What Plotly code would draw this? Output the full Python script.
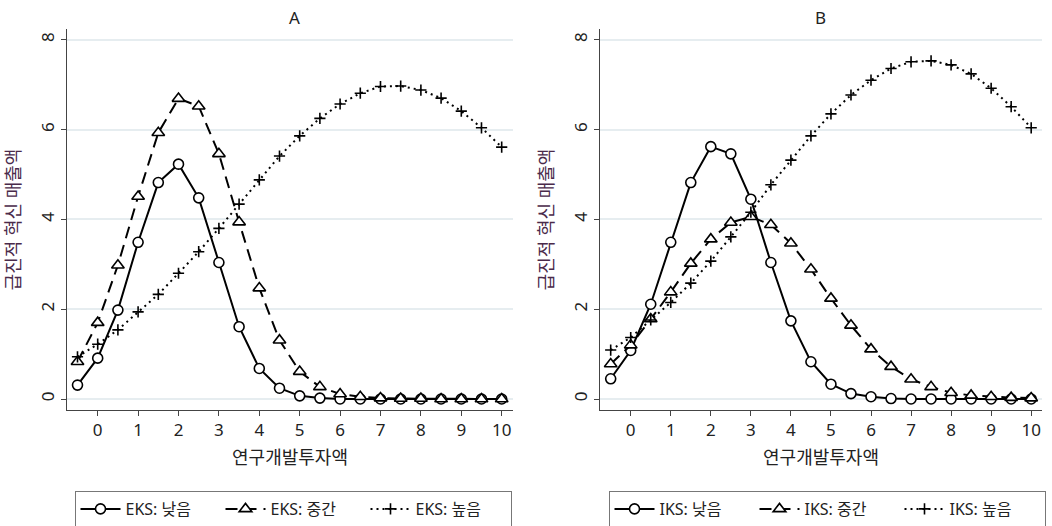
import plotly.graph_objects as go

x_vals = [-0.5, 0, 0.5, 1, 1.5, 2, 2.5, 3, 3.5, 4, 4.5, 5, 5.5, 6, 6.5, 7, 7.5, 8, 8.5, 9, 9.5, 10]

# Panel A (EKS)
a_low = [0.31, 0.91, 1.98, 3.49, 4.82, 5.23, 4.48, 3.04, 1.61, 0.68, 0.24, 0.07, 0.02, 0.0, 0.0, 0.0, 0.0, 0.0, 0.0, 0.0, 0.0, 0.0]
a_mid = [0.83, 1.70, 2.98, 4.51, 5.93, 6.69, 6.52, 5.46, 3.94, 2.47, 1.31, 0.61, 0.27, 0.11, 0.05, 0.02, 0.01, 0.01, 0.0, 0.0, 0.0, 0.0]
a_high = [0.94, 1.22, 1.54, 1.94, 2.33, 2.80, 3.28, 3.80, 4.34, 4.88, 5.41, 5.86, 6.25, 6.57, 6.81, 6.96, 6.97, 6.88, 6.70, 6.41, 6.04, 5.61]

# Panel B (IKS)
b_low = [0.45, 1.08, 2.11, 3.49, 4.82, 5.62, 5.46, 4.45, 3.04, 1.74, 0.83, 0.33, 0.12, 0.05, 0.01, 0.0, 0.0, 0.0, 0.0, 0.0, 0.0, 0.0]
b_mid = [0.78, 1.20, 1.78, 2.38, 3.02, 3.56, 3.93, 4.06, 3.88, 3.47, 2.89, 2.24, 1.64, 1.11, 0.72, 0.44, 0.27, 0.14, 0.08, 0.05, 0.03, 0.02]
b_high = [1.09, 1.37, 1.76, 2.15, 2.58, 3.07, 3.61, 4.16, 4.77, 5.32, 5.86, 6.35, 6.77, 7.10, 7.36, 7.51, 7.53, 7.44, 7.24, 6.92, 6.51, 6.04]

names_a = ["EKS: 낮음", "EKS: 중간", "EKS: 높음"]
names_b = ["IKS: 낮음", "IKS: 중간", "IKS: 높음"]
panel_titles = ["A", "B"]
x_title = "연구개발투자액"
y_title = "급진적 혁신 매출액"
x_ticks = list(range(0, 11))
y_ticks = [0, 2, 4, 6, 8]

FONT = "Noto Sans, Noto Sans CJK KR, sans-serif"
INK = "#222222"
GRID = "#e6edf0"
YT_COLOR = "#4a2a4a"

styles = [
    dict(dash="solid", symbol="circle", size=10, fill="white", lw=1.6),
    dict(dash="12px,7px", symbol="triangle-up", size=11, fill="white", lw=1.6),
    dict(dash="2px,4px", symbol="cross-thin", size=8, fill="black", lw=1.6),
]

fig = go.Figure()

def add_panel(series, names, xa, ya, legend):
    for vals, name, st in zip(series, names, styles):
        fig.add_trace(go.Scatter(
            x=x_vals, y=vals, name=name, mode="lines+markers",
            line=dict(color="black", width=2, dash=st["dash"]),
            marker=dict(symbol=st["symbol"], size=st["size"], color=st["fill"],
                        line=dict(color="black", width=st["lw"])),
            xaxis=xa, yaxis=ya, legend=legend,
        ))

add_panel([a_low, a_mid, a_high], names_a, "x", "y", "legend")
add_panel([b_low, b_mid, b_high], names_b, "x2", "y2", "legend2")

ydom = [1 - 410 / 526, 1 - 29 / 526]
xa_common = dict(
    tickvals=x_ticks, ticks="outside", ticklen=5, tickwidth=1, tickcolor="#444",
    showline=True, linecolor="#444", linewidth=1, showgrid=False, zeroline=False,
    tickfont=dict(family=FONT, size=17, color=INK),
    title=dict(text=x_title, font=dict(family=FONT, size=18, color=INK), standoff=10),
)
ya_common = dict(
    tickvals=y_ticks, ticks="outside", ticklen=5, tickwidth=1, tickcolor="#444",
    showline=True, linecolor="#444", linewidth=1, showgrid=True, gridcolor=GRID,
    gridwidth=1.5, zeroline=False, range=[-0.245, 8.24], tickangle=-90,
    tickfont=dict(family=FONT, size=17, color=INK), domain=ydom,
    title=dict(text=y_title, font=dict(family=FONT, size=18, color=YT_COLOR), standoff=10),
)

leg_common = dict(orientation="h", xanchor="center", y=1 - 491 / 526, yanchor="top",
                  bordercolor="#777", borderwidth=1, bgcolor="white",
                  font=dict(family=FONT, size=16, color=INK),
                  entrywidth=90, entrywidthmode="pixels", itemwidth=40)

fig.update_layout(
    width=1052, height=526,
    margin=dict(l=0, r=0, t=0, b=0, autoexpand=False),
    paper_bgcolor="white", plot_bgcolor="white",
    font=dict(family=FONT, color=INK),
    xaxis=dict(domain=[67 / 1052, 513 / 1052], range=[-0.76, 10.28], anchor="y", **xa_common),
    yaxis=dict(anchor="x", **ya_common),
    xaxis2=dict(domain=[600 / 1052, 1042 / 1052], range=[-0.767, 10.27], anchor="y2", **xa_common),
    yaxis2=dict(anchor="x2", **ya_common),
    legend=dict(x=293 / 1052, **leg_common),
    legend2=dict(x=827 / 1052, **leg_common),
    showlegend=True,
)

for t, xc in zip(panel_titles, [287 / 1052, 828 / 1052]):
    fig.add_annotation(text=t, x=xc, y=1 - 17 / 526, xref="paper", yref="paper",
                       yanchor="middle", showarrow=False,
                       font=dict(family=FONT, size=17, color=INK))

fig.write_html("out.html", config={"displayModeBar": False},
               post_script="document.body.style.margin='0';")
